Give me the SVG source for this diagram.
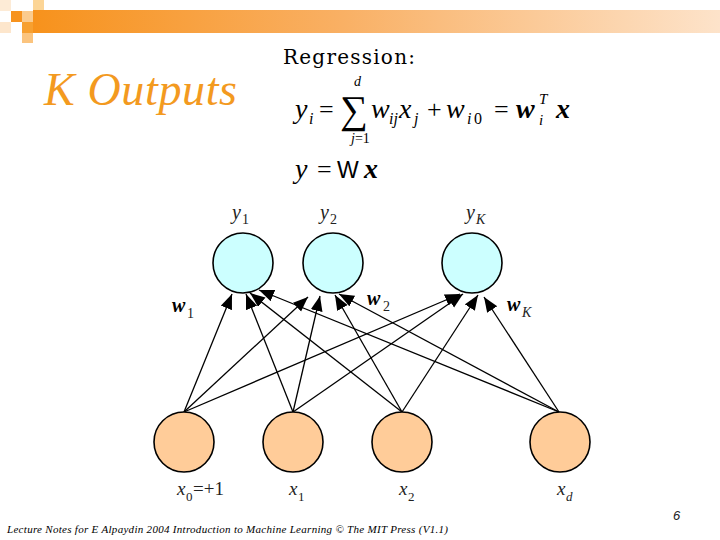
<svg xmlns="http://www.w3.org/2000/svg" width="720" height="540" viewBox="0 0 720 540">
<defs>
<linearGradient id="bar" x1="0" y1="0" x2="1" y2="0">
<stop offset="0" stop-color="#F7921C"/>
<stop offset="0.45" stop-color="#F9B064"/>
<stop offset="1" stop-color="#FDE3CA"/>
</linearGradient>
<marker id="ah" markerUnits="userSpaceOnUse" markerWidth="16" markerHeight="13" refX="15" refY="6" orient="auto">
<path d="M0,0 L15,6 L0,12 Z" fill="#000"/>
</marker>
<style>
.conn line{stroke:#000;stroke-width:1.3;marker-end:url(#ah)}
.out{fill:#CCFFFF;stroke:#000;stroke-width:1.6}
.inp{fill:#FFCC99;stroke:#000;stroke-width:1.6}
.it{font-family:"Liberation Serif","DejaVu Serif",serif;font-style:italic;fill:#222}
.rm{font-family:"Liberation Serif","DejaVu Serif",serif;fill:#222}
.bi{font-family:"Liberation Serif","DejaVu Serif",serif;font-style:italic;font-weight:bold;fill:#000}
.f{font-family:"Liberation Serif","DejaVu Serif",serif;fill:#000}
</style>
</defs>
<rect width="720" height="540" fill="#fff"/>
<g id="header">
<rect x="33" y="10" width="687" height="23" fill="url(#bar)"/>
<rect x="0" y="0" width="11" height="11" fill="#FDEBD6"/>
<rect x="33" y="0" width="11" height="10" fill="#FCD596"/>
<rect x="11" y="11" width="11" height="11" fill="#F7931E"/>
<rect x="22" y="11" width="11" height="11" fill="#FBCB8E"/>
<rect x="0" y="22" width="11" height="11" fill="#FDE6CC"/>
<rect x="22" y="22" width="11" height="11" fill="#F7A030"/>
<rect x="22" y="33" width="11" height="10" fill="#FBC47E"/>
</g>
<text id="title" x="44" y="105" font-family="'Liberation Serif','DejaVu Serif',serif" font-style="italic" font-size="46" fill="#F39A1F" textLength="193">K Outputs</text>
<text x="283" y="64" font-family="'DejaVu Serif',serif" font-size="20" fill="#000" textLength="132">Regression:</text>
<g id="formula1">
<text class="f" font-style="italic" font-size="28" x="295" y="118">y</text>
<text class="f" font-style="italic" font-size="16" x="309" y="124">i</text>
<text class="f" font-size="26" x="319" y="118">=</text>
<text class="f" font-size="39" x="340" y="123">∑</text>
<text class="f" font-style="italic" font-size="14" x="354" y="86">d</text>
<text class="f" font-size="14" x="351" y="143"><tspan font-style="italic">j</tspan>=1</text>
<text class="f" font-style="italic" font-size="28" x="371" y="118">w</text>
<text class="f" font-style="italic" font-size="16" x="389" y="124">ij</text>
<text class="f" font-style="italic" font-size="28" x="399" y="118">x</text>
<text class="f" font-style="italic" font-size="16" x="414" y="124">j</text>
<text class="f" font-size="26" x="427" y="118">+</text>
<text class="f" font-style="italic" font-size="28" x="446" y="118">w</text>
<text class="f" font-style="italic" font-size="16" x="467" y="124">i</text>
<text class="f" font-size="16" x="474" y="124">0</text>
<text class="f" font-size="26" x="494" y="118">=</text>
<text class="f" font-style="italic" font-weight="bold" font-size="28" x="516" y="118">w</text>
<text class="f" font-style="italic" font-size="15" x="539" y="104">T</text>
<text class="f" font-style="italic" font-size="15" x="539" y="125">i</text>
<text class="f" font-style="italic" font-weight="bold" font-size="28" x="556" y="118">x</text>
</g>
<g id="formula2">
<text class="f" font-style="italic" font-size="28" x="295" y="178">y</text>
<text class="f" font-size="26" x="317" y="178">=</text>
<text x="337" y="178" font-family="'Liberation Sans',Arial,sans-serif" font-size="23" fill="#000" textLength="26">W</text>
<text class="f" font-style="italic" font-weight="bold" font-size="28" x="364" y="178">x</text>
</g>
<g id="connectors" class="conn">
<line x1="184" y1="412" x2="232" y2="294"/>
<line x1="184" y1="412" x2="308" y2="297"/>
<line x1="184" y1="412" x2="460" y2="294"/>
<line x1="293" y1="412" x2="246" y2="294"/>
<line x1="293" y1="412" x2="320" y2="296"/>
<line x1="293" y1="412" x2="463" y2="294"/>
<line x1="402" y1="412" x2="250" y2="293"/>
<line x1="402" y1="412" x2="335" y2="295"/>
<line x1="402" y1="412" x2="478" y2="295"/>
<line x1="559" y1="412" x2="259" y2="290"/>
<line x1="559" y1="412" x2="339" y2="294"/>
<line x1="559" y1="412" x2="484" y2="297"/>
</g>
<g id="y1"><circle class="out" cx="243" cy="263" r="30"/><text class="it" font-size="20" x="232" y="219">y</text><text class="rm" font-size="14" x="242" y="224">1</text></g>
<g id="y2"><circle class="out" cx="333" cy="263" r="30"/><text class="it" font-size="20" x="320" y="219">y</text><text class="rm" font-size="14" x="330" y="224">2</text></g>
<g id="yK"><circle class="out" cx="472" cy="263" r="30"/><text class="it" font-size="20" x="466" y="219">y</text><text class="it" font-size="14" x="476" y="224">K</text></g>
<g id="x0"><circle class="inp" cx="184" cy="442" r="30"/><text class="it" font-size="19" x="177" y="495">x</text><text class="rm" font-size="13" x="186" y="501">0</text><text class="rm" font-size="19" x="193" y="495">=+1</text></g>
<g id="x1"><circle class="inp" cx="293" cy="442" r="30"/><text class="it" font-size="19" x="289" y="495">x</text><text class="rm" font-size="13" x="298" y="501">1</text></g>
<g id="x2"><circle class="inp" cx="402" cy="442" r="30"/><text class="it" font-size="19" x="399" y="495">x</text><text class="rm" font-size="13" x="408" y="501">2</text></g>
<g id="xd"><circle class="inp" cx="560" cy="442" r="30"/><text class="it" font-size="19" x="557" y="495">x</text><text class="it" font-size="13" x="566" y="501">d</text></g>
<g id="weights">
<text class="bi" font-size="20" x="172" y="312">w</text><text class="rm" font-size="14" x="187" y="318">1</text>
<text class="bi" font-size="20" x="367" y="305">w</text><text class="rm" font-size="14" x="383" y="311">2</text>
<text class="bi" font-size="20" x="507" y="311">w</text><text class="it" font-size="14" x="522" y="317">K</text>
</g>
<text x="673" y="520" font-family="'Liberation Sans',sans-serif" font-style="italic" font-size="13" fill="#222">6</text>
<text x="7" y="533" font-family="'Liberation Serif',serif" font-style="italic" font-size="11" fill="#000" textLength="441">Lecture Notes for E Alpaydin 2004 Introduction to Machine Learning © The MIT Press (V1.1)</text>
</svg>
